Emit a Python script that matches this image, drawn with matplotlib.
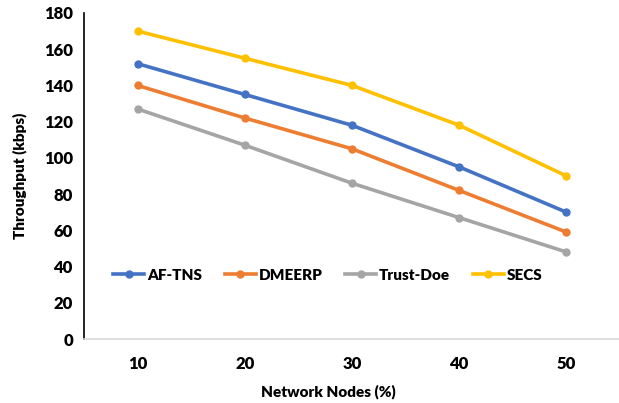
import matplotlib.pyplot as plt

nodes = ["10", "20", "30", "40", "50"]
af_tns = [152, 135, 118, 95, 70]
dmeerp = [140, 122, 105, 82, 59]
trust_doe = [127, 107, 86, 67, 48]
secs = [170, 155, 140, 118, 90]

plt.rcParams['font.family'] = ['Lato', 'DejaVu Sans']
plt.rcParams['font.weight'] = 'bold'

fig = plt.figure(figsize=(6.19, 4.03), dpi=100)
ax = fig.add_axes([0.1357, 0.1588, 0.866, 0.809])

x = range(1, len(nodes) + 1)
ax.plot(x, af_tns, color="#4472C4", lw=2.6, marker="o", ms=5, label="AF-TNS")
ax.plot(x, dmeerp, color="#ED7D31", lw=2.6, marker="o", ms=5, label="DMEERP")
ax.plot(x, trust_doe, color="#A5A5A5", lw=2.6, marker="o", ms=5, label="Trust-Doe")
ax.plot(x, secs, color="#FFC000", lw=2.6, marker="o", ms=5, label="SECS")

ax.set_xlim(0.5, 5.5)
ax.set_ylim(0, 180)
ax.set_yticks(range(0, 181, 20))
ax.set_xticks(list(x))
ax.set_xticklabels(nodes)
ax.tick_params(length=0, labelsize=12, pad=8)
ax.tick_params(axis="x", pad=12)
for lab in ax.get_xticklabels() + ax.get_yticklabels():
    lab.set_fontweight("heavy")

ax.spines["top"].set_visible(False)
ax.spines["right"].set_visible(False)
ax.spines["left"].set_color("black")
ax.spines["left"].set_linewidth(1.2)
ax.spines["bottom"].set_color("#d9d9d9")
ax.spines["bottom"].set_linewidth(1.2)

ax.set_ylabel("Throughput (kbps)", fontsize=11, fontweight="heavy", labelpad=12)
ax.set_xlabel("Network Nodes (%)", fontsize=11, fontweight="heavy", va="center")
ax.xaxis.set_label_coords(0.455, -0.163)

leg = ax.legend(loc="center", bbox_to_anchor=(0.455, 0.196), ncol=4, frameon=False,
                fontsize=11, handlelength=2.0, columnspacing=1.5, handletextpad=0.2)
for t in leg.get_texts():
    t.set_fontweight("heavy")

fig.savefig("out.png", dpi=100)
